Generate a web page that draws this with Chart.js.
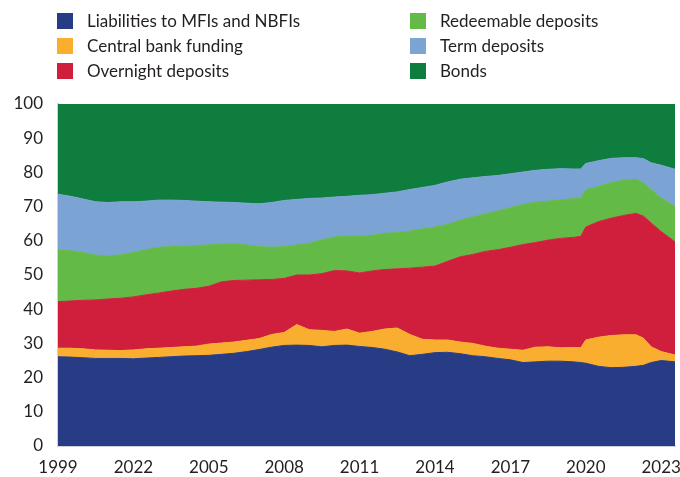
<!DOCTYPE html>
<html>
<head>
<meta charset="utf-8">
<script src="https://cdn.jsdelivr.net/npm/chart.js@4/dist/chart.umd.min.js"></script>
<style>
  html, body { margin: 0; padding: 0; background: #fff; }
  #wrap { position: relative; width: 680px; height: 477px; }
  #chart { position: absolute; left: 0; top: 0; }
  #legend {
    position: absolute; left: 57px; top: 8px;
    display: grid; grid-template-columns: 353px 240px; grid-auto-flow: column;
    grid-template-rows: repeat(3, 25px);
    font-family: Lato, "Open Sans", sans-serif; font-size: 17px; color: #231f20;
  }
  .item { display: flex; align-items: center; white-space: nowrap; }
  .box { width: 16px; height: 16px; margin-right: 14px; flex: none; }
</style>
</head>
<body>
<div id="wrap">
  <canvas id="chart" width="680" height="477"></canvas>
  <div id="legend"></div>
</div>
<script>
(function () {
  "use strict";

  // Dates (decimal years)
  const YEARS = [
    1999.0, 1999.5, 2000.0, 2000.5, 2001.0, 2001.5, 2002.0, 2002.5, 2003.0, 2003.5,
    2004.0, 2004.5, 2005.0, 2005.5, 2006.0, 2006.5, 2007.0, 2007.5, 2008.0, 2008.5,
    2009.0, 2009.5, 2010.0, 2010.5, 2011.0, 2011.5, 2012.0, 2012.5, 2013.0, 2013.5,
    2014.0, 2014.5, 2015.0, 2015.5, 2016.0, 2016.5, 2017.0, 2017.5, 2018.0, 2018.5,
    2019.0, 2019.5, 2019.8, 2020.0, 2020.5, 2021.0, 2021.5, 2022.0, 2022.3, 2022.6,
    2023.0, 2023.55
  ];

  // Shares in percent, one value per date
  const LIABILITIES = [
    26.1, 26.0, 25.8, 25.6, 25.6, 25.6, 25.5, 25.7, 25.9, 26.1,
    26.3, 26.4, 26.5, 26.8, 27.1, 27.6, 28.2, 28.9, 29.4, 29.5,
    29.4, 29.0, 29.4, 29.5, 29.1, 28.8, 28.3, 27.5, 26.4, 26.8,
    27.3, 27.4, 27.0, 26.4, 26.1, 25.6, 25.2, 24.4, 24.6, 24.8,
    24.8, 24.6, 24.4, 24.2, 23.3, 22.9, 23.0, 23.3, 23.6, 24.4,
    25.0, 24.6
  ];
  const CENTRAL_BANK = [
    2.5, 2.6, 2.6, 2.5, 2.4, 2.3, 2.6, 2.7, 2.7, 2.7,
    2.7, 2.8, 3.3, 3.3, 3.3, 3.3, 3.2, 3.7, 3.8, 6.0,
    4.6, 4.8, 4.1, 4.7, 3.9, 4.7, 5.9, 7.0, 6.2, 4.4,
    3.7, 3.6, 3.4, 3.6, 3.1, 3.0, 3.1, 3.6, 4.3, 4.2,
    3.9, 4.2, 4.3, 6.8, 8.5, 9.4, 9.5, 9.2, 7.9, 4.6,
    2.6, 2.0
  ];
  const OVERNIGHT = [
    13.6, 13.8, 14.2, 14.6, 15.0, 15.3, 15.5, 15.8, 16.1, 16.5,
    16.8, 16.9, 16.9, 17.9, 18.0, 17.6, 17.2, 16.1, 15.8, 14.5,
    16.0, 16.6, 17.8, 17.0, 17.6, 17.7, 17.4, 17.3, 19.4, 21.1,
    21.6, 23.0, 24.9, 26.0, 27.7, 28.8, 29.8, 30.9, 30.6, 31.2,
    32.0, 32.2, 32.6, 33.0, 33.8, 34.3, 34.9, 35.5, 35.7, 36.2,
    35.1, 33.1
  ];
  const REDEEMABLE = [
    15.1, 14.7, 13.9, 13.1, 12.6, 12.7, 13.0, 13.2, 13.4, 13.0,
    12.6, 12.5, 12.1, 11.0, 10.8, 10.3, 9.7, 9.4, 9.3, 8.8,
    9.3, 9.9, 9.8, 10.2, 10.6, 10.4, 10.6, 10.6, 10.8, 11.2,
    11.4, 10.8, 10.7, 11.0, 10.9, 11.3, 11.6, 11.7, 11.8, 11.4,
    11.3, 11.3, 11.2, 10.9, 10.3, 10.4, 10.3, 10.0, 9.8, 9.8,
    9.8, 10.3
  ];
  const TERM = [
    16.3, 15.9, 15.7, 15.6, 15.6, 15.5, 14.8, 14.2, 13.8, 13.6,
    13.4, 13.0, 12.6, 12.3, 12.0, 12.2, 12.5, 13.1, 13.5, 13.3,
    13.1, 12.2, 11.7, 11.6, 12.1, 11.9, 11.7, 11.9, 12.2, 12.1,
    12.2, 12.4, 12.0, 11.4, 11.0, 10.4, 9.9, 9.5, 9.3, 9.3,
    9.1, 8.7, 8.5, 7.7, 7.5, 7.1, 6.6, 6.3, 7.0, 7.8,
    9.6, 10.9
  ];
  const BONDS = [
    26.4, 27.0, 27.8, 28.6, 28.8, 28.6, 28.6, 28.4, 28.1, 28.1,
    28.2, 28.4, 28.6, 28.7, 28.8, 29.0, 29.2, 28.8, 28.2, 27.9,
    27.6, 27.5, 27.2, 27.0, 26.7, 26.5, 26.1, 25.7, 25.0, 24.4,
    23.8, 22.8, 22.0, 21.6, 21.2, 20.9, 20.4, 19.9, 19.4, 19.1,
    18.9, 19.0, 19.0, 17.4, 16.6, 15.9, 15.7, 15.7, 16.0, 17.2,
    17.9, 19.1
  ];

  // Tick positions and their printed labels (second label as printed)
  const X_TICKS = [1999, 2002, 2005, 2008, 2011, 2014, 2017, 2020, 2023];
  const X_LABELS = ["1999", "2022", "2005", "2008", "2011", "2014", "2017", "2020", "2023"];

  const SERIES = [
    { label: "Liabilities to MFIs and NBFIs", values: LIABILITIES, color: "#283c86" },
    { label: "Central bank funding", values: CENTRAL_BANK, color: "#f9ae2f" },
    { label: "Overnight deposits", values: OVERNIGHT, color: "#d01f3c" },
    { label: "Redeemable deposits", values: REDEEMABLE, color: "#64ba47" },
    { label: "Term deposits", values: TERM, color: "#7ba4d5" },
    { label: "Bonds", values: BONDS, color: "#0e7d3e" },
  ];

  const FONT = { family: "Lato, 'Open Sans', sans-serif", size: 17 };
  const AXIS_GREY = "#cdd2da";

  // HTML legend, two columns, filled column by column
  const legend = document.getElementById("legend");
  SERIES.forEach((s) => {
    const item = document.createElement("div");
    item.className = "item";
    const box = document.createElement("span");
    box.className = "box";
    box.style.background = s.color;
    const txt = document.createElement("span");
    txt.textContent = s.label;
    item.appendChild(box);
    item.appendChild(txt);
    legend.appendChild(item);
  });

  new Chart(document.getElementById("chart"), {
    type: "line",
    data: {
      datasets: SERIES.map((s, i) => ({
        label: s.label,
        data: YEARS.map((x, j) => ({ x, y: s.values[j] })),
        backgroundColor: s.color,
        borderColor: s.color,
        borderWidth: 1,
        pointRadius: 0,
        tension: 0,
        fill: i === 0 ? "origin" : "-1",
      })),
    },
    options: {
      responsive: false,
      animation: false,
      events: [],
      layout: { padding: { top: 104, right: 5, left: 0, bottom: 0 } },
      plugins: { legend: { display: false }, tooltip: { enabled: false } },
      scales: {
        x: {
          type: "linear",
          min: 1999,
          max: 2023.55,
          grid: { display: false, drawTicks: false },
          border: { display: true, color: AXIS_GREY, width: 2 },
          afterBuildTicks: (scale) => {
            scale.ticks = X_TICKS.map((v) => ({ value: v }));
          },
          afterFit: (scale) => {
            scale.height = 31;
            scale.paddingLeft = 0;
            scale.paddingRight = 0;
          },
          ticks: {
            color: "#231f20",
            font: FONT,
            padding: 11,
            maxRotation: 0,
            autoSkip: false,
            callback: (v) => X_LABELS[X_TICKS.indexOf(v)],
          },
        },
        y: {
          stacked: true,
          min: 0,
          max: 100,
          grid: { display: false, drawTicks: false },
          border: { display: true, color: AXIS_GREY, width: 2 },
          afterFit: (scale) => {
            scale.width = 58;
            scale.paddingTop = 0;
            scale.paddingBottom = 0;
          },
          ticks: {
            stepSize: 10,
            color: "#231f20",
            font: FONT,
            padding: 15,
          },
        },
      },
    },
  });
})();
</script>
</body>
</html>
